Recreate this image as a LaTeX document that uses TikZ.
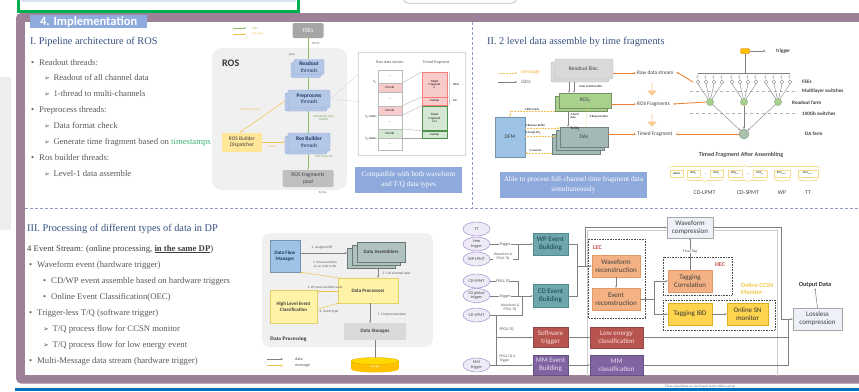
\documentclass[tikz,border=0pt]{standalone}
\usepackage{fontspec}
\setmainfont{Liberation Serif}
\newfontfamily\cfont{Carlito}
\newfontfamily\symfont{DejaVu Sans}
\usetikzlibrary{arrows.meta,shapes.geometric,shapes.arrows,shadows,decorations.pathreplacing,calc}
\newcommand{\fsz}[2]{\fontsize{#1}{#2}\selectfont}
\newcommand{\arw}{{\symfont\fontsize{7}{7}\selectfont ➢}\hspace{3.5pt}}
\newcommand{\bulx}{•\hspace{5pt}}
\definecolor{framec}{HTML}{9C8199}
\definecolor{hdrblue}{HTML}{8FAADC}
\definecolor{ttlc}{HTML}{34507F}
\definecolor{txtc}{HTML}{595959}
\definecolor{stampc}{HTML}{3CB371}
\definecolor{divc}{HTML}{8E9BC6}
\definecolor{rosbgc}{HTML}{F0F0F0}
\definecolor{feec}{HTML}{A6A6A6}
\definecolor{thrf}{HTML}{B4C7E7}
\definecolor{thrd}{HTML}{8FAADC}
\definecolor{thrt}{HTML}{203864}
\definecolor{poolc}{HTML}{BFBFBF}
\definecolor{dispc}{HTML}{FFE699}
\definecolor{datac}{HTML}{8CC06A}
\definecolor{msgc}{HTML}{F2C14E}
\definecolor{pinkf}{HTML}{F8CBCB}
\definecolor{grnf}{HTML}{D5E8D4}
\definecolor{bluebox}{HTML}{8EA9DB}
\definecolor{roec}{HTML}{D9D9D9}
\definecolor{rosic}{HTML}{A9D18E}
\definecolor{dfmc}{HTML}{9DC3E6}
\definecolor{dasc}{HTML}{A3B9B6}
\definecolor{orngc}{HTML}{ED7D31}
\definecolor{barrow}{HTML}{F9CB8F}
\definecolor{flowc}{HTML}{7F7F7F}
\definecolor{ellf}{HTML}{EEEAF6}
\definecolor{elld}{HTML}{8E7CC3}
\definecolor{tealf}{HTML}{6FA6AC}
\definecolor{teald}{HTML}{4E8C93}
\definecolor{tealt}{HTML}{17434B}
\definecolor{redf}{HTML}{B85450}
\definecolor{redt}{HTML}{F9DCDA}
\definecolor{purf}{HTML}{8064A2}
\definecolor{purt}{HTML}{E4DCF0}
\definecolor{orf}{HTML}{F4B183}
\definecolor{ord}{HTML}{E59A63}
\definecolor{yelf}{HTML}{FFD54F}
\definecolor{yeld}{HTML}{E0B020}
\definecolor{palef}{HTML}{EEF1F8}
\definecolor{hecc}{HTML}{C0504D}
\definecolor{ccsnc}{HTML}{F2C94C}
\definecolor{dpyel}{HTML}{FFF3A8}
\definecolor{dpyeld}{HTML}{E3CF6A}
\definecolor{dsc}{HTML}{D9D9D9}
\definecolor{diskc}{HTML}{FFC000}
\definecolor{bluel}{HTML}{0070C0}
\definecolor{greenb}{HTML}{00B050}
\definecolor{paleblue}{HTML}{DAE3F3}
\definecolor{rnf}{HTML}{A9D18E}
\definecolor{dafc}{HTML}{A9C2A9}
\definecolor{fcellc}{HTML}{F2DB8A}
\tikzset{
  arrowtip/.style={-{Stealth[length=2.2pt,width=1.8pt]}},
  ttl/.style={anchor=base west, inner sep=0, text=ttlc, font=\fsz{10.3}{12}},
  itm/.style={anchor=base west, inner sep=0, text=txtc, font=\fsz{8.7}{10}},
  lab/.style={inner sep=0.3pt, align=center, font=\cfont\fsz{3}{3.6}},
  lab4/.style={inner sep=0.3pt, align=center, font=\cfont\fsz{4}{4.6}, text=black!65},
  boxs/.style={inner sep=0, align=center, font=\cfont\fsz{5.5}{6.3}},
  thr/.style={boxs, draw=thrd, fill=thrf, rounded corners=1.5pt, text=thrt, copy shadow={shadow xshift=-3pt, shadow yshift=-3pt}},
  dl/.style={datac, line width=0.6pt},
  ml/.style={msgc, line width=0.5pt},
  mld/.style={msgc, line width=0.5pt, densely dotted},
  gl/.style={flowc, line width=0.5pt},
  orng/.style={orngc, line width=0.8pt, arrowtip},
  cell/.style={draw=gray!55, minimum width=24pt, inner sep=0, font=\cfont\fsz{3}{3.4}, align=center},
  ell/.style={ellipse, draw=elld, fill=ellf, minimum width=27pt, minimum height=14pt, inner sep=0, align=center, font=\cfont\fsz{4.2}{4.6}, text=black!70},
  fbox/.style={boxs, font=\cfont\fsz{7}{7.8}, minimum width=35pt},
  bluebx/.style={fill=bluebox, text=white, inner sep=0, align=center},
  net/.style={gray, line width=0.4pt},
  nlab/.style={anchor=west, inner sep=0, font=\cfont\bfseries\fsz{5.1}{5.5}, text=black!75},
  fcell/.style={draw=fcellc, fill=white, minimum height=7pt, inner sep=0, font=\cfont\fsz{2.8}{3}},
  brc/.style={draw=fcellc, line width=0.6pt, decorate, decoration={brace, amplitude=3pt}},
  dpbox/.style={boxs, font=\cfont\bfseries\fsz{5}{6}, text=black!75},
}
\begin{document}
\begin{tikzpicture}[x=1pt,y=-1pt]
\useasboundingbox (0,0) rectangle (859,391);
\fill[white] (0,0) rectangle (859,391);
\fill[black!7] (0,77) rectangle (11,230);
\fill[paleblue] (21,-2) rectangle (296,2.2);
\draw[greenb, line width=3.4pt] (18.7,-6) rectangle (298.3,11.3);
\draw[black!25, line width=0.7pt, rounded corners=5pt] (403,-12) rectangle (517,3.2);
\fill[framec, rounded corners=5pt] (16,13) rectangle (890,383.5);
\fill[white] (25,22) rectangle (859,375);
\fill[bluel] (15,388) rectangle (859,391);
\node[fill=hdrblue, text=white, anchor=north west, minimum width=117pt, minimum height=13pt, inner sep=0, font=\cfont\bfseries\fsz{12.5}{12.5}] (hdr) at (30,15) {4. Implementation};
\draw[divc, line width=0.6pt, dash pattern=on 3pt off 2pt] (472,22) -- (472,208);
\draw[divc, line width=0.6pt, dash pattern=on 3pt off 2pt] (25,208) -- (859,208);
\node[lab, font=\fsz{3.4}{4}, text=black!60] (offl) at (700,386.5) {These algorithms are developed in the offline group};
\begin{scope}
\clip (25,22) rectangle (859,375);
% ================= Section I
\node[ttl] (t1) at (30,44) {I. Pipeline architecture of ROS};
\node[itm] (a1) at (31,65) {\bulx Readout threads:};
\node[itm] (a2) at (44,80.9) {\arw Readout of all channel data};
\node[itm] (a3) at (44,96.7) {\arw 1-thread to multi-channels};
\node[itm] (a4) at (31,112.6) {\bulx Preprocess threads:};
\node[itm] (a5) at (44,128.4) {\arw Data format check};
\node[itm] (a6) at (44,144.3) {\arw Generate time fragment based on \textcolor{stampc}{timestamps}};
\node[itm] (a7) at (31,160.2) {\bulx Ros builder threads:};
\node[itm] (a8) at (44,176) {\arw Level-1 data assemble};
% ROS diagram
\node[fill=rosbgc, rounded corners=10pt, minimum width=135pt, minimum height=142pt, inner sep=0] (rosbg) at (279.5,119) {};
\node[anchor=base west, inner sep=0, font=\cfont\bfseries\fsz{10}{10}, text=black!80] (roslbl) at (222,66) {ROS};
\node[fill=feec, rounded corners=2pt, minimum width=31pt, minimum height=15pt, inner sep=0, text=white, font=\cfont\fsz{6}{6}] (fees) at (308,30.5) {FEEs};
\draw[dl, arrowtip] (233,28) -- (246,28);
\node[lab, anchor=west, text=datac] (lgd) at (252,28) {data};
\draw[ml, arrowtip] (233,34) -- (246,34);
\node[lab, anchor=west, text=msgc] (lgm1) at (252,34) {message};
\node[thr, minimum width=30pt, minimum height=15pt] (rth) at (309,67) {\textbf{Readout}\\threads};
\node[thr, minimum width=42pt, minimum height=18pt] (rpp) at (309,99) {\textbf{Preprocess}\\threads};
\node[thr, minimum width=42pt, minimum height=18pt] (rbt) at (309,142) {\textbf{Ros Builder}\\threads};
\node[boxs, fill=poolc, rounded corners=1.5pt, minimum width=51pt, minimum height=17pt, text=black!75] (pool) at (308,178.5) {ROS fragments\\pool};
\node[boxs, fill=dispc, minimum width=40pt, minimum height=19pt, text=black!75] (disp) at (242,142) {ROS Builder\\Dispatcher};
\path (fees.south |- rth.north) coordinate (g0) (fees.south |- rth.south) coordinate (g1)
      (fees.south |- rpp.north) coordinate (g2) (fees.south |- rpp.south) coordinate (g3)
      (fees.south |- rbt.north) coordinate (g4) (fees.south |- rbt.south) coordinate (g5);
\draw[dl] (fees.south) -- (g0);
\draw[dl] ([yshift=-3pt]g1) -- (g2);
\draw[dl] ([yshift=-3pt]g3) -- (g4);
\draw[dl, arrowtip] ([yshift=-3pt]g5) -- (pool.north);
\draw[ml, arrowtip] ([xshift=-3pt,yshift=-2pt]rpp.west) -- ([xshift=-2pt]disp.north);
\node[lab, text=msgc] (ppd) at (250,110) {Preprocess done};
\draw[ml, arrowtip] (disp.east) -- ([xshift=-3pt]rbt.west);
\node[lab, text=msgc] (bid) at (272,146) {BuildID};
\node[lab, anchor=west, text=datac!85!black] (dmem) at (313,118) {Distributed mem\\BuildID};
\node[lab, anchor=west, text=datac!85!black] (rfl) at (315,157) {ROS fragment};
\node[lab, anchor=west, text=black!60] (tcp) at (311,44) {TCP/IP};
\node[lab, text=black!60] (epl) at (292,55) {Epoll};
\node[lab, anchor=west, text=black!60] (tda) at (318,193) {To DAs};
% timed fragment panel
\node[draw=gray!30, fill=white, minimum width=107pt, minimum height=103pt, inner sep=0] (tfp) at (411.5,103.5) {};
\node[lab, font=\cfont\fsz{4}{4}, text=black!65] (h1) at (390,62) {Raw data stream};
\node[lab, font=\cfont\fsz{4}{4}, text=black!65] (h2) at (436,62) {Timed Fragment};
\node[cell, fill=white, minimum height=13pt] (c1) at (390,76.5) {...};
\node[cell, fill=pinkf, minimum height=9pt] (c2) at (390,87.5) {hit info};
\node[cell, fill=white, minimum height=14pt] (c3) at (390,99) {...};
\node[cell, fill=pinkf, minimum height=9pt] (c4) at (390,110.5) {hit info};
\node[cell, fill=white, minimum height=14pt] (c5) at (390,122) {...};
\node[cell, fill=grnf, minimum height=9pt] (c6) at (390,133.5) {hit info};
\node[cell, fill=white, minimum height=12pt] (c7) at (390,144) {...};
\node[cell, fill=pinkf, draw=pinkf!60!red, minimum width=25pt, minimum height=25pt] (f1) at (434.5,84.5) {Timed\\Fragment\\n};
\node[cell, fill=pinkf, draw=pinkf!60!red, minimum width=25pt, minimum height=8pt] (f2) at (434.5,101) {overlap};
\node[cell, fill=grnf, draw=grnf!60!green!60!black, minimum width=25pt, minimum height=24pt] (f3) at (434.5,118) {Timed\\Fragment\\n+1};
\node[cell, fill=grnf, draw=grnf!60!green!60!black, minimum width=25pt, minimum height=7pt] (f4) at (434.5,134.5) {overlap};
\node[lab, anchor=east] (tl0) at (377,82) {T\textsubscript{0}};
\node[lab, anchor=east] (tl1) at (377,117) {T\textsubscript{0}+10ms};
\node[lab, anchor=east] (tl2) at (377,139) {T\textsubscript{0}+20ms};
\draw[gray, line width=0.3pt, decorate, decoration={brace, amplitude=1.5pt}] ([xshift=1.5pt]f1.north east) -- ([xshift=1.5pt]f1.south east);
\draw[gray, line width=0.3pt, decorate, decoration={brace, amplitude=1.2pt}] ([xshift=1.5pt]f2.north east) -- ([xshift=1.5pt]f2.south east);
\node[lab, anchor=west] (ms10) at (452,85) {10ms};
\node[lab, anchor=west] (us1) at (452,101) {1us};
\draw[gray!70, line width=0.3pt] (c2.north east) -- (f1.north west);
\draw[gray!70, line width=0.3pt] (c4.north east) -- (f2.north west);
\draw[gray!70, line width=0.3pt] (c4.south east) -- (f3.north west);
\draw[gray!70, line width=0.3pt] (c6.north east) -- (f4.north west);
\draw[gray!70, line width=0.3pt] (c6.south east) -- (f4.south west);
\draw[gray!30, line width=0.4pt] (rpp.east) -- ($(tfp.north west)!0.22!(tfp.south west)$);
\draw[gray!30, line width=0.4pt] (rpp.east) -- ($(tfp.north west)!0.48!(tfp.south west)$);
\node[bluebx, minimum width=107pt, minimum height=26pt, font=\fsz{7.2}{10}] (compat) at (408.5,180) {Compatible with both waveform\\and T/Q data types};
% ================= Section II
\node[ttl] (t2) at (487,44) {II. 2 level data assemble by time fragments};
\draw[mld, arrowtip] (498,73) -- (517,73);
\node[anchor=west, inner sep=0, font=\cfont\fsz{5.3}{6}, text=msgc!80!orange] (lgm2) at (521,73) {message};
\draw[gl, arrowtip] (498,82) -- (517,82);
\node[anchor=west, inner sep=0, font=\cfont\fsz{5.3}{6}, text=black!55] (lgd2) at (521,82) {data};
\node[boxs, fill=roec, draw=black!30, rounded corners=2pt, minimum width=58pt, minimum height=20pt, text=black!75, copy shadow={shadow xshift=-4pt, shadow yshift=-3pt}] (roe) at (584,69) {Readout Elec.};
\node[boxs, fill=rosic, draw=rosic!70!black, minimum width=52pt, minimum height=15pt, text=black!75, copy shadow={shadow xshift=-4pt, shadow yshift=-3pt}] (rosi) at (585,100.5) {ROS\textsubscript{i}};
\node[boxs, fill=dfmc, draw=dfmc!75!black, minimum width=30pt, minimum height=40pt, text=black!75] (dfm) at (510,137) {DFM};
\node[boxs, fill=dasc, draw=dasc!70!black, minimum width=48pt, minimum height=20pt, text=black!75, double copy shadow={shadow xshift=-4pt, shadow yshift=-3.5pt}] (das) at (584,137) {DAs};
\node[lab, font=\cfont\fsz{3.6}{4}] (toda) at (575,129.5) {To DA\textsubscript{j}};
\draw[gl, arrowtip] ([xshift=-15pt,yshift=-3pt]roe.south) -- ([xshift=-16pt]rosi.north);
\draw[gl, arrowtip] ([xshift=-10pt,yshift=-3pt]roe.south) -- ([xshift=-11pt]rosi.north);
\node[lab, anchor=west] (d2r) at (579,86) {Data to ROS buffer};
\draw[mld, arrowtip] ([xshift=-4pt,yshift=-3pt]rosi.south west) -| (dfm.north);
\node[lab, anchor=west] (rr1) at (524,109.5) {1.ROS ready};
\draw[mld, arrowtip] ([yshift=9pt]dfm.east) -- ([yshift=9pt]das.west);
\node[lab, anchor=west] (rb2) at (525,125.5) {2.Release Buffer};
\draw[mld, arrowtip] ([yshift=1pt]dfm.east) -- ([xshift=-4pt,yshift=1pt]das.west);
\node[lab, anchor=west] (as3) at (525,133) {3.Assign DA\textsubscript{j}};
\draw[mld, arrowtip] ([xshift=-8pt,yshift=-16pt]das.west) -- ([yshift=-16pt]dfm.east);
\node[lab, anchor=west] (lo5) at (529,150) {5.Load ok};
\draw[gl, arrowtip] ([xshift=-17pt,yshift=-3pt]rosi.south) -- ([xshift=-16pt]das.north);
\node[lab, anchor=west, align=left] (sd4) at (570,116) {4.Send\\data};
\draw[mld, arrowtip] ([xshift=2pt]das.north) -- ([xshift=2pt]rosi.south);
\node[lab, anchor=west] (rq3) at (589,117) {3.Request data};
\node[anchor=west, inner sep=0, font=\cfont\fsz{5.3}{6}, text=black!75] (rds) at (637,73) {Raw data stream};
\node[anchor=west, inner sep=0, font=\cfont\fsz{5.3}{6}, text=black!75] (rfr) at (637,104) {ROS Fragments};
\node[anchor=west, inner sep=0, font=\cfont\fsz{5.3}{6}, text=black!75] (tfr) at (637,134) {Timed Fragment};
\draw[orng] (roe.east |- rds.west) -- ([xshift=-1pt]rds.west);
\draw[orng] (rosi.east |- rfr.west) -- ([xshift=-1pt]rfr.west);
\draw[orng] (das.east |- tfr.west) -- ([xshift=-1pt]tfr.west);
\node[single arrow, shape border rotate=270, fill=barrow, minimum width=10pt, minimum height=13pt, single arrow head extend=2pt, inner sep=0] (ba1) at (652,89) {};
\node[single arrow, shape border rotate=270, fill=barrow, minimum width=10pt, minimum height=13pt, single arrow head extend=2pt, inner sep=0] (ba2) at (652,120) {};
% network
\node[fill=diskc, draw=orange!80!black, line width=0.3pt, rounded corners=1pt, minimum width=9pt, minimum height=5pt, inner sep=0] (trg) at (745,51) {};
\coordinate (trge) at (764,51);
\draw[net] (trg.east) -- (trge);
\draw[net, fill=white] (trge) circle (1.2pt);
\node[nlab] (trgl) at (776,51) {trigger};
\coordinate (busl) at (698,73);
\coordinate (busr) at (790,73);
\draw[net] (busl) -- (busr);
\draw[net] (trg.south) -- (trg.south |- busl);
\foreach \i/\x in {1/698,2/706,3/714,4/722,5/732,6/740,7/748,8/756,9/766,10/774,11/782,12/790}{
  \node[circle, draw=gray, fill=white, line width=0.35pt, inner sep=0, minimum size=3.6pt] (fee\i) at (\x,82) {};
  \draw[net, line width=0.3pt] (\x,73) -- (\x,75.5) -- (\x-1.3,77) -- (\x,78.5) -- (fee\i.north);
}
\node[circle, fill=rnf, draw=rnf!70!black, line width=0.3pt, minimum size=7pt, inner sep=0] (rn1) at (710,102) {};
\node[circle, fill=rnf, draw=rnf!70!black, line width=0.3pt, minimum size=7pt, inner sep=0] (rn2) at (744,102) {};
\node[circle, fill=rnf, draw=rnf!70!black, line width=0.3pt, minimum size=7pt, inner sep=0] (rn3) at (778,102) {};
\foreach \i in {1,2,3,4}{\draw[net] (fee\i.south) -- (rn1);}
\foreach \i in {5,6,7,8}{\draw[net] (fee\i.south) -- (rn2);}
\foreach \i in {9,10,11,12}{\draw[net] (fee\i.south) -- (rn3);}
\draw[black!30, dashed, line width=0.5pt] (690,91) -- (798,91);
\draw[black!30, dashed, line width=0.5pt] (690,113) -- (798,113);
\node[circle, fill=dafc, draw=gray, line width=0.3pt, minimum size=10pt, inner sep=0] (daf) at (744,134) {};
\draw[net, arrowtip] (rn1) -- (daf);
\draw[net, arrowtip] (rn2) -- (daf);
\draw[net, arrowtip] (rn3) -- (daf);
\node[nlab] (feel) at (802,82) {FEEs};
\node[nlab] (mls) at (802,91.5) {Multilayer switches};
\node[nlab] (rofl) at (792,103) {Readout farm};
\node[nlab] (gbs) at (802,114) {100Gb switches};
\node[nlab] (dafl) at (805,134) {DA farm};
\draw[orng] ([xshift=-3pt]fee1.west) -- ([xshift=3pt,yshift=1pt]rds.east);
\draw[orng] (rn1.west) -- ([xshift=3pt]rfr.east);
\draw[orng] (daf.west) -- ([xshift=3pt]tfr.east);
% fragment bar
\node[font=\cfont\bfseries\fsz{6}{6}, text=black!70, inner sep=0] (tfa) at (741,155) {Timed Fragment After Assembling};
\node[fcell, minimum width=13pt] (hd) at (676.5,173.5) {HEAD};
\node[fcell, minimum width=13pt] (r1) at (693.5,173.5) {ROS\textsubscript{1}};
\node[inner sep=0, font=\cfont\fsz{3}{3}] (dt1) at (705.5,174) {...};
\node[fcell, minimum width=13pt] (rk) at (716.5,173.5) {ROS\textsubscript{k}};
\node[fcell, minimum width=14pt] (rk1) at (735,173.5) {ROS\textsubscript{k+1}};
\node[inner sep=0, font=\cfont\fsz{3}{3}] (dt2) at (747.5,174) {...};
\node[fcell, minimum width=14pt] (rm) at (760,173.5) {ROS\textsubscript{m}};
\node[fcell, minimum width=16pt] (rm1) at (782,173.5) {ROS\textsubscript{m+1...}};
\node[fcell, minimum width=20pt] (rn) at (808,173.5) {ROS\textsubscript{n+1...}};
\draw[brc] (669,168) -- (820,168);
\draw[brc] (723,179) -- (686,179);
\draw[brc] (768,179) -- (728,179);
\draw[brc] (790,179) -- (774,179);
\draw[brc] (818,179) -- (798,179);
\node[font=\cfont\fsz{5.8}{6}, text=black!75, inner sep=0] (lpm) at (704.5,193) {CD-LPMT};
\node[font=\cfont\fsz{5.8}{6}, text=black!75, inner sep=0] (spm) at (748,193) {CD-SPMT};
\node[font=\cfont\fsz{5.8}{6}, text=black!75, inner sep=0] (wpl) at (782,193) {WP};
\node[font=\cfont\fsz{5.8}{6}, text=black!75, inner sep=0] (ttl2) at (808,193) {TT};
\node[bluebx, minimum width=147pt, minimum height=26pt, font=\fsz{7.3}{10}] (able) at (573.5,185) {Able to process full-channel time fragment data\\simultaneously};
% ================= Section III
\node[ttl] (t3) at (27,231) {III. Processing of different types of data in DP};
\node[itm, text=black!75] (s0) at (27,251) {4 Event Stream: (online processing, \textbf{\underline{in the same DP}})};
\node[itm] (s1) at (29,267) {\bulx Waveform event (hardware trigger)};
\node[itm] (s2) at (43,283) {\bulx CD/WP event assemble based on hardware triggers};
\node[itm] (s3) at (43,299) {\bulx Online Event Classification(OEC)};
\node[itm] (s4) at (29,315) {\bulx Trigger-less T/Q (software trigger)};
\node[itm] (s5) at (43,331) {\arw T/Q process flow for CCSN monitor};
\node[itm] (s6) at (43,347) {\arw T/Q process flow for low energy event};
\node[itm] (s7) at (29,363) {\bulx Multi-Message data stream (hardware trigger)};
% data processing diagram
\node[fill=rosbgc, rounded corners=8pt, minimum width=171pt, minimum height=114pt, inner sep=0] (dpbg) at (347.5,290) {};
\node[dpbox, fill=dfmc, draw=dfmc!75!black, minimum width=30pt, minimum height=32pt, text=thrt] (dfm3) at (285,256) {Data Flow\\Manager};
\node[dpbox, fill=dasc!85!white, draw=dasc!65!black, minimum width=48pt, minimum height=20pt, double copy shadow={shadow xshift=-5pt, shadow yshift=-3pt}] (das3) at (381,252) {Data Assemblers};
\node[dpbox, fill=dpyel, draw=dpyeld, minimum width=60pt, minimum height=25pt] (dp3) at (368,290.5) {Data Processors};
\node[dpbox, fill=dpyel, draw=dpyeld, minimum width=47pt, minimum height=33pt] (hl3) at (293.5,306.5) {High Level Event\\Classification};
\node[dpbox, fill=dsc, minimum width=62pt, minimum height=17pt] (ds3) at (375,331.5) {Data Storages};
\node[anchor=base west, inner sep=0, font=\bfseries\fsz{5.3}{6}, text=black!80] (dplbl) at (270,340) {Data Processing};
\coordinate (m1) at (347,253);
\draw[gl, arrowtip] (dfm3.east |- m1) -- (m1);
\node[lab, font=\cfont\fsz{3.5}{4}, text=black!65] (l31) at (322,248) {1. Assigned DP};
\draw[ml, arrowtip] (dp3.north west) -- (dfm3.south east);
\node[lab, font=\cfont\fsz{3.2}{3.6}, text=black!65] (l35) at (325,264.5) {5. Processed done\\\& can send to dfs};
\coordinate (m2) at (378,268);
\draw[gl, arrowtip] (m2) -- (m2 |- dp3.north);
\node[lab, anchor=west, font=\cfont\fsz{3.5}{4}, text=black!65] (l32) at (382,273) {2. Full channel data};
\draw[ml, arrowtip] ([yshift=-1pt]dp3.west) -- ([yshift=-1pt]dp3.west -| hl3.east);
\node[lab, font=\cfont\fsz{3.2}{3.6}, text=black!65] (l33) at (325,287) {3. DP need classified result};
\draw[ml, arrowtip] ([yshift=-3pt]hl3.east) -- (dp3.south west);
\node[lab, font=\cfont\fsz{3.5}{4}, text=black!65] (l34) at (329,312) {4. Event type};
\coordinate (m3) at (370,303);
\draw[gl, arrowtip] (m3) -- (m3 |- ds3.north);
\node[lab, anchor=west, font=\cfont\fsz{3.5}{4}, text=black!65] (l37) at (377,315) {7. Compressed data};
\coordinate (dtop) at (375,361);
\draw[gl] (ds3.south) -- (dtop);
\fill[diskc] (351,361) rectangle (399,369);
\fill[diskc] (375,369) ellipse [x radius=24pt, y radius=3.5pt];
\filldraw[fill=diskc!60!yellow, draw=diskc!85!black, line width=0.3pt] (375,361) ellipse [x radius=24pt, y radius=3.5pt];
\node[lab, text=white] (disk) at (375,367) {Storage};
\draw[gl, arrowtip] (267,359) -- (283,359);
\node[anchor=west, inner sep=0, font=\cfont\fsz{4.2}{5}, text=black!65] (lg3a) at (295,359) {data};
\draw[ml, arrowtip] (267,365.5) -- (283,365.5);
\node[anchor=west, inner sep=0, font=\cfont\fsz{4.2}{5}, text=black!65] (lg3b) at (295,365.5) {message};
% ================= right flow
\draw[black!20, line width=0.5pt] (587,230) rectangle (777,390);
\node[ell] (e1) at (476.5,229) {TT};
\node[ell] (e2) at (476.5,244) {Veto\\trigger};
\node[ell] (e3) at (476.5,259) {WP-LPMT};
\node[ell] (e4) at (476.5,281) {CD-SPMT};
\node[ell] (e5) at (476.5,295.5) {CD global\\trigger};
\node[ell] (e6) at (476.5,315) {CD-LPMT};
\node[ell] (e7) at (476.5,365) {MM\\trigger};
\node[fbox, fill=tealf, draw=teald, text=tealt, minimum height=22pt] (wpb) at (550.5,244) {WP Event\\Building};
\node[fbox, fill=tealf, draw=teald, text=tealt, minimum height=23pt] (cdb) at (550.5,296) {CD Event\\Building};
\node[fbox, fill=redf, draw=redf!80!black, text=redt, minimum height=20pt] (swt) at (550.5,337.5) {Software\\trigger};
\node[fbox, fill=purf, draw=purf!80!black, text=purt, minimum height=20pt] (mmb) at (550.5,365) {MM Event\\Building};
\node[fbox, fill=redf, draw=redf!80!black, text=redt, minimum width=53pt, minimum height=21pt] (lec2) at (616.5,337.5) {Low energy\\classification};
\node[fbox, fill=purf, draw=purf!80!black, text=purt, minimum width=53pt, minimum height=20pt] (mmc) at (616.5,365) {MM\\classification};
\draw[black!70, densely dotted, line width=0.6pt] (588,239) rectangle (645,318);
\node[anchor=west, inner sep=0, font=\cfont\bfseries\fsz{6}{6}, text=hecc] (lecl) at (593,248) {LEC};
\node[fbox, fill=orf, draw=ord, text=black!75, minimum width=48pt, minimum height=22pt] (wfr) at (616,266) {Waveform\\reconstruction};
\node[fbox, fill=orf, draw=ord, text=black!75, minimum width=48pt, minimum height=22pt] (evr) at (616,299) {Event\\reconstruction};
\draw[black!70, densely dotted, line width=0.6pt] (663,257) rectangle (732,295);
\node[anchor=west, inner sep=0, font=\cfont\bfseries\fsz{6}{6}, text=hecc] (hecl) at (715,265) {HEC};
\node[fbox, fill=orf, draw=ord, text=black!75, minimum width=44pt, minimum height=22pt] (tcor) at (690,281) {Tagging\\Correlation};
\node[fbox, fill=palef, draw=black!35, text=black!75, minimum width=46pt, minimum height=21pt] (wfc) at (690,227.5) {Waveform\\compression};
\node[font=\cfont\bfseries\fsz{6.3}{7.2}, text=ccsnc, inner sep=0, align=left] (ccsn) at (757,288.5) {Online CCSN\\Monitor};
\draw[black!70, densely dotted, line width=0.6pt] (663,300) rectangle (775,330);
\node[fbox, fill=yelf, draw=yeld, text=black!80, minimum width=44pt, minimum height=22pt] (tibd) at (690,314) {Tagging IBD};
\node[fbox, fill=yelf, draw=yeld, text=black!80, minimum width=41pt, minimum height=22pt] (osn) at (747.5,314) {Online SN\\monitor};
\node[fbox, fill=palef, draw=black!35, text=black!75, minimum width=49pt, minimum height=22pt] (llc) at (817.5,319) {Lossless\\compression};
\node[font=\cfont\bfseries\fsz{6.3}{7}, text=black!80, inner sep=0.5pt] (outd) at (815,285) {Output Data};
% connectors
\node[lab4, fill=white] (lt1) at (505,244) {Trigger};
\draw[gl] (e2.east) -- (lt1.west);
\draw[gl, arrowtip] (lt1.east) -- (wpb.west);
\coordinate (j1) at (518,244);
\draw[gl] (e3.east) -| (j1);
\node[lab4, fill=white, font=\cfont\fsz{3.6}{3.9}] (lw1) at (503,256.5) {Waveform \&\\FPGA TQ};
\coordinate (j2) at (518,296);
\draw[gl] (e4.east) -| (j2);
\node[lab4, fill=white] (lf1) at (503,281) {FPGA TQ};
\node[lab4, fill=white] (lt2) at (505,296) {Trigger};
\draw[gl] (e5.east |- lt2.west) -- (lt2.west);
\draw[gl, arrowtip] (lt2.east) -- (cdb.west);
\coordinate (j3) at (522,296);
\draw[gl] (e6.east) -| (j3);
\node[lab4, font=\cfont\fsz{3.6}{3.9}] (lw2) at (510,307.5) {Waveform \&\\FPGA TQ};
\coordinate (j4) at (496,315);
\coordinate (j5) at (496,337.5);
\coordinate (j6) at (496,365);
\draw[gl] (j4) -- (j6);
\draw[gl, arrowtip] (j5) -- (swt.west);
\draw[gl, arrowtip] (e7.east) -- (mmb.west);
\node[lab4, anchor=west] (lf2) at (499,329) {FPGA TQ};
\node[lab4, anchor=south west, align=left, font=\cfont\fsz{3.6}{4.2}] (lf3) at (499,363) {FPGA TQ \&\\Trigger};
\coordinate (k1) at (577,266);
\draw[gl] (wpb.east) -| (k1);
\draw[gl] (cdb.east) -| (k1);
\draw[gl, arrowtip] (k1) -- (wfr.west);
\coordinate (k2) at (585,266);
\draw[gl, arrowtip] (k2) |- (wfc.west);
\draw[gl, arrowtip] (wfr.south) -- (evr.north);
\coordinate (k3) at (654,299);
\draw[gl] (evr.east) -- (k3);
\draw[gl, arrowtip] (k3) |- (tcor.west);
\draw[gl, arrowtip] (k3) |- (tibd.west);
\draw[gl, arrowtip] (tibd.east) -- (osn.west);
\draw[gl, arrowtip] (tcor.north) -- (wfc.south);
\node[lab4, fill=white] (ftag) at (690,251) {Final Tag};
\coordinate (k4) at (781,319);
\coordinate (k6) at (788,319);
\draw[gl, arrowtip] (wfc.east) -| (k4) -- (llc.west);
\draw[gl] (lec2.east) -| (k6);
\draw[gl] (mmc.east) -| (k6);
\draw[gl, arrowtip] (llc.north) -- (outd.south);
\draw[gl, arrowtip] (swt.east) -- (lec2.west);
\draw[gl, arrowtip] (mmb.east) -- (mmc.west);
\end{scope}
\end{tikzpicture}
\end{document}
